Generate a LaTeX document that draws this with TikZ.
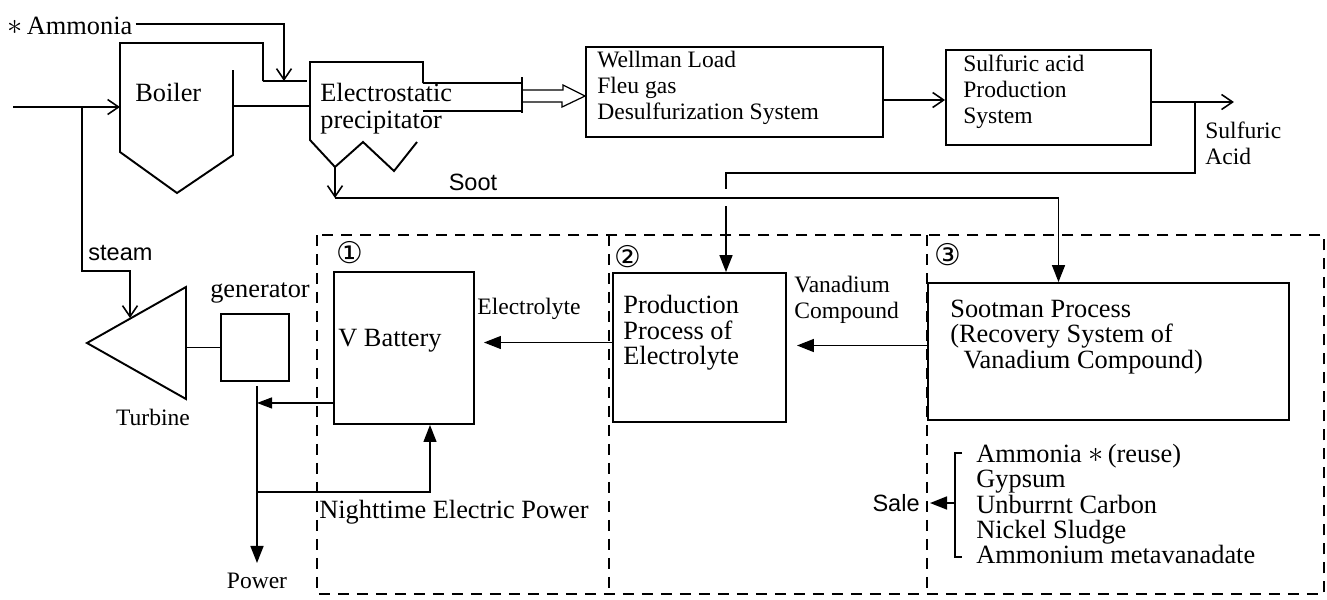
\documentclass[tikz,border=0pt]{standalone}
\usepackage{fontspec}
\setmainfont{Liberation Serif}
\setsansfont{Liberation Sans}
\newfontfamily\circfont{DejaVu Sans}
\usetikzlibrary{positioning,calc,arrows.meta}

\newcommand{\plantbig}{\fontsize{15}{14.5}\selectfont}
\newcommand{\plantbox}{\fontsize{13.4}{14.8}\selectfont}
\newcommand{\plantlbl}{\fontsize{13.4}{14.6}\selectfont}
\newcommand{\plantstar}{{\fontsize{19}{14}\selectfont$\ast$}}

\tikzset{
  procbox/.style={draw, line width=1.1pt, inner sep=0pt},
  flowline/.style={line width=0.9pt},
  thinline/.style={line width=0.7pt},
  openarrow/.style={flowline, -{Straight Barb[length=0.22cm,width=0.3cm]}},
  fillarrow/.style={flowline, -{Triangle[length=0.34cm,width=0.26cm]}},
  zoneline/.style={line width=0.6pt, dash pattern=on 0.22cm off 0.16cm},
  txt/.style={inner sep=0pt, align=left, font=\plantbig},
  zonenum/.style={inner sep=0pt, font=\circfont\fontsize{17}{17}\selectfont},
}

\begin{document}
\begin{tikzpicture}[x=0.02cm, y=-0.02cm]
\useasboundingbox (0,0) rectangle (1327,599);

% Zone geometry (dashed frame, pixel units, y down)
\def\zoneL{317}
\def\zoneR{1324}
\def\zoneTop{235}
\def\zoneBot{594}

% Dashed frame and dividers
\draw[zoneline] (\zoneL,\zoneTop) rectangle (\zoneR,\zoneBot);
\foreach \x in {609, 927} {
    \draw[zoneline] (\x,\zoneTop) -- (\x,\zoneBot);
}

% Zone numbers
\node[zonenum] (zone1) at (350,253) {①};
\node[zonenum] (zone2) at (628,257) {②};
\node[zonenum] (zone3) at (948,255) {③};

% Boiler outline
\draw[procbox] (263,81) -- (263,43) -- (120,43) -- (120,152) -- (177,193) -- (233,155) -- (233,70);
\node[txt, anchor=west] (boiler) at (135,92) {Boiler};

% Flue between boiler and precipitator
\draw[flowline] (263,81) -- (307,81);
\draw[flowline] (233,106) -- (310,106);

% Electrostatic precipitator with hopper
\draw[procbox] (423,83) -- (423,62) -- (310,62) -- (310,140) -- (335,167) -- (363,142) -- (394,171) -- (417,142);
\node[txt, anchor=west] (esp) at (320,109) {Electrostatic\\[1pt]precipitator};

% Duct to the desulfurization system
\draw[flowline] (423,83) -- (522,83);
\draw[flowline] (423,111) -- (522,111);
\draw[flowline] (522,77) -- (522,113);
\coordinate (ductend) at (522,96);
\coordinate (hopper) at (335,167);
\coordinate (sootcorner) at (335,198);

% Top row of boxes
\node[procbox, minimum width=5.94cm, minimum height=1.8cm] (wellman) at (734.5,92) {};
\node[txt, anchor=west, font=\plantbox] (wellmantxt) at (597,88) {Wellman Load\\Fleu gas\\Desulfurization System};
\node[procbox, minimum width=4.1cm, minimum height=1.9cm] (sulf) at (1048.5,97.5) {};
\node[txt, anchor=west, font=\plantbox] (sulftxt) at (963,92) {Sulfuric acid\\Production\\System};

% Lower boxes
\node[procbox, minimum width=2.8cm, minimum height=3.04cm] (vbat) at (404,348) {};
\node[txt, anchor=west] (vbattxt) at (338,341) {V Battery};
\node[procbox, minimum width=3.46cm, minimum height=2.98cm] (prod) at (699.5,347.5) {};
\node[txt, anchor=west] (prodtxt) at (623,333) {Production\\Process of\\Electrolyte};
\node[procbox, minimum width=7.22cm, minimum height=2.74cm] (sootman) at (1108.5,351.5) {};
\node[txt, anchor=west] (sootmantxt) at (950,337) {Sootman Process\\(Recovery System of\\\hspace{0.5em}Vanadium Compound)};

% Turbine and generator
\coordinate (tapex) at (87,343);
\coordinate (ttop) at (186,287);
\coordinate (tbot) at (186,399);
\draw[procbox] (tapex) -- (ttop) -- (tbot) -- cycle;
\node[procbox, minimum width=1.36cm, minimum height=1.34cm] (gen) at (255,347.5) {};
\draw[flowline] (gen.west -| ttop) -- (gen.west);
\node[txt, font=\plantlbl] (turbinetxt) at (153,417) {Turbine};
\node[txt, font=\plantbig] (gentxt) at (260,293) {generator};

% Ammonia feed
\node[txt, anchor=west] (nh3) at (7,26) {\plantstar\,Ammonia};
\coordinate (nh3in) at (284,81);
\draw[openarrow] (nh3.east |- 0,24) ++(3,0) -| (nh3in);

% Fuel inlet and steam branch
\coordinate (fuelin) at (13,107);
\coordinate (boilin) at (120,107);
\coordinate (steamtap) at (82,107);
\coordinate (steambend) at (130,271);
\coordinate (turbin) at (130,318);
\draw[openarrow] (fuelin) -- (boilin);
\draw[openarrow] (steamtap) |- (steambend) -- (turbin);
\node[txt, anchor=west, font=\sffamily\plantlbl] (steamtxt) at (88,253) {steam};

% Gas to desulfurization (hollow arrow)
\draw[thinline] ($(ductend)+(0,-6)$) -- ++(41,0) -- ++(0,-5) -- (wellman.west |- ductend)
    -- ++(-23,11) -- ++(0,-5) -- ($(ductend)+(0,6)$);

% Desulfurization -> sulfuric acid -> out
\draw[openarrow] ($(wellman.east)+(0,8)$) -- ($(sulf.west)+(0,2.5)$);
\coordinate (acidtap) at ($(sulf.east)+(43,4.5)$);
\draw[openarrow] ($(sulf.east)+(0,4.5)$) -- ($(sulf.east)+(82,4.5)$);
\node[txt, anchor=west, font=\plantlbl] (acidtxt) at (1205,143) {Sulfuric\\Acid};

% Sulfuric acid back to electrolyte production (crosses soot line)
\coordinate (acidturn) at (726,173);
\coordinate (gapA) at (726,189);
\coordinate (gapB) at (726,206);
\draw[flowline] (acidtap) |- (acidturn) -- (gapA);
\draw[fillarrow] (gapB) -- (gapB |- prod.north);

% Soot to the Sootman process
\draw[openarrow] (hopper) -- (sootcorner);
\draw[fillarrow] (sootcorner) -| ($(sootman.north)+(-50,0)$);
\node[font=\sffamily\plantlbl, inner sep=0pt] (soottxt) at (473,182) {Soot};

% Vanadium compound and electrolyte
\coordinate (vanout) at ($(sootman.west)+(0,-6)$);
\draw[fillarrow, shorten >=0.2cm] (vanout) -- (vanout -| prod.east);
\node[txt, anchor=west, font=\plantlbl] (vantxt) at (794,300) {Vanadium\\Compound};
\coordinate (elecout) at ($(prod.west)+(0,-5)$);
\draw[thinline, -{Triangle[length=0.34cm,width=0.26cm]}, shorten >=0.18cm] (elecout) -- (elecout -| vbat.east);
\node[txt, font=\plantlbl] (electxt) at (529,309) {Electrolyte};

% Power out and nighttime charging
\coordinate (powtop) at ($(gen.south)+(2,4)$);
\coordinate (powend) at ($(powtop)+(0,177)$);
\draw[flowline, -{Triangle[length=0.34cm,width=0.26cm]}] (powtop) -- (powend);
\node[txt, font=\plantlbl] (powtxt) at (257,581) {Power};
\coordinate (batout) at ($(vbat.south west)+(0,-22)$);
\draw[thinline, -{Triangle[length=0.3cm,width=0.22cm]}] (batout) -- (batout -| powtop);
\coordinate (nightjoin) at ($(powtop)+(0,106)$);
\draw[thinline, -{Triangle[length=0.34cm,width=0.26cm]}] (nightjoin) -| ($(vbat.south)+(26,0)$);
\node[txt, anchor=west] (nighttxt) at (319,512) {Nighttime Electric Power};

% By-products
\node[txt, anchor=west] (byprod) at (976,504) {Ammonia \plantstar\,(reuse)\\Gypsum\\Unburrnt Carbon\\Nickel Sludge\\Ammonium metavanadate};
\draw[flowline] (962,453) -- (955,453) -- (955,557) -- (962,557);
\coordinate (brkmid) at (955,503);
\node[font=\sffamily\plantlbl, inner sep=0pt, anchor=east] (sale) at (920,503) {Sale};
\draw[fillarrow, shorten >=0.2cm] (brkmid) -- (sale.east);

\end{tikzpicture}
\end{document}
